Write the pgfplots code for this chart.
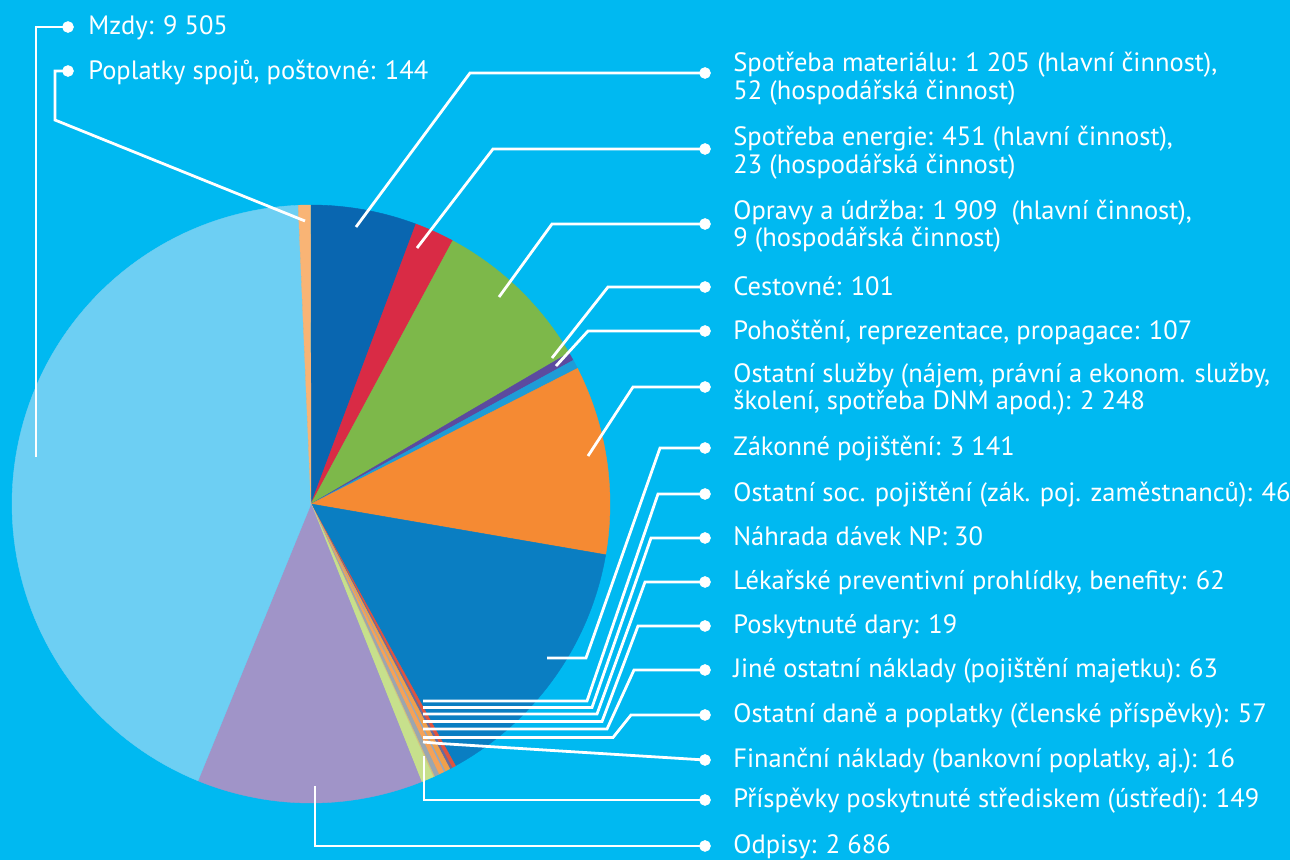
\documentclass[border=0pt]{standalone}
\usepackage{pgfplots}
\pgfplotsset{compat=1.18}
\usepackage{fontspec}
\setmainfont{PT Sans}
\definecolor{bg}{HTML}{00B9F1}
\definecolor{cMzdy}{HTML}{6DCFF3}
\definecolor{cPopl}{HTML}{F9B475}
\definecolor{cMat}{HTML}{0966B0}
\definecolor{cEn}{HTML}{D92B45}
\definecolor{cOpr}{HTML}{7DB84A}
\definecolor{cCest}{HTML}{5C4A9F}
\definecolor{cPoh}{HTML}{1E9CD7}
\definecolor{cSluz}{HTML}{F58A33}
\definecolor{cZak}{HTML}{0A7EC2}
\definecolor{cSoc}{HTML}{E0533F}
\definecolor{cNah}{HTML}{6A6B9B}
\definecolor{cLek}{HTML}{F0A04B}
\definecolor{cDar}{HTML}{8FA8C8}
\definecolor{cJin}{HTML}{F4A259}
\definecolor{cDan}{HTML}{9BA6B0}
\definecolor{cFin}{HTML}{D8C07A}
\definecolor{cPrisp}{HTML}{C7E08C}
\definecolor{cOdp}{HTML}{A094C8}
% total of all values = 22023
\pgfmathsetmacro\scalef{360/220.23/100}
\gdef\cum{0}
\newcommand\slice[2]{%
 \pgfmathsetmacro\sa{90-\cum}%
 \pgfmathsetmacro\tmpc{\cum+#1*\scalef}%
 \xdef\cum{\tmpc}%
 \pgfmathsetmacro\ea{90-\cum}%
 \edef\doit{\noexpand\addplot[draw=#2,line width=0.2pt,fill=#2,domain=\ea:\sa,samples=90] ({311+299*cos(x)},{504-299*sin(x)}) -- (axis cs:311,504) -- cycle;}%
 \doit}
\newcommand\lab[3]{\node[anchor=base west,text=white,inner sep=0pt] at (axis cs:#1,#2) {#3};}
\begin{document}
\begin{tikzpicture}
\begin{axis}[
  width=645bp, height=430bp, scale only axis,
  xmin=0, xmax=1290, ymin=0, ymax=860, y dir=reverse,
  hide axis, clip=false,
  font=\fontsize{13.3}{16}\selectfont,
]
\fill[bg] (axis cs:0,0) rectangle (axis cs:1290,860);
\coordinate (TL) at (axis cs:0,0);
\coordinate (BR) at (axis cs:1290,860);
% slices clockwise from top
\slice{1257}{cMat}
\slice{474}{cEn}
\slice{1918}{cOpr}
\slice{101}{cCest}
\slice{107}{cPoh}
\slice{2248}{cSluz}
\slice{3141}{cZak}
\slice{46}{cSoc}
\slice{30}{cNah}
\slice{62}{cLek}
\slice{19}{cDar}
\slice{63}{cJin}
\slice{57}{cDan}
\slice{16}{cFin}
\slice{149}{cPrisp}
\slice{2686}{cOdp}
\slice{9505}{cMzdy}
\slice{144}{cPopl}
% leader lines
\addplot[white,line width=1.4pt,mark=none] coordinates {(36,457) (36,27) (68,27)};
\addplot[white,line width=1.4pt,mark=none] coordinates {(305,221) (55,120) (55,71) (68,71)};
\addplot[white,line width=1.4pt,mark=none] coordinates {(356,227) (470,73) (705,73)};
\addplot[white,line width=1.4pt,mark=none] coordinates {(417,248) (493,149) (705,149)};
\addplot[white,line width=1.4pt,mark=none] coordinates {(499,297) (552,224) (705,224)};
\addplot[white,line width=1.4pt,mark=none] coordinates {(552,358) (608,287) (705,287)};
\addplot[white,line width=1.4pt,mark=none] coordinates {(556,366) (588,331) (705,331)};
\addplot[white,line width=1.4pt,mark=none] coordinates {(588,456) (633,387) (705,387)};
\addplot[white,line width=1.4pt,mark=none] coordinates {(547,658) (586,658) (660,448) (705,448)};
\addplot[white,line width=1.4pt,mark=none] coordinates {(423,701) (587,701) (658,494) (705,494)};
\addplot[white,line width=1.4pt,mark=none] coordinates {(423,707.5) (592,707.5) (651,538) (705,538)};
\addplot[white,line width=1.4pt,mark=none] coordinates {(423,714) (597,714) (645,582) (705,582)};
\addplot[white,line width=1.4pt,mark=none] coordinates {(423,721.5) (602,721.5) (638,626) (705,626)};
\addplot[white,line width=1.4pt,mark=none] coordinates {(423,729) (607,729) (634,670) (705,670)};
\addplot[white,line width=1.4pt,mark=none] coordinates {(423,737.5) (613,737.5) (631,715) (705,715)};
\addplot[white,line width=1.4pt,mark=none] coordinates {(423,742) (440,743.5) (705,760)};
\addplot[white,line width=1.4pt,mark=none] coordinates {(424,756) (424,800) (705,800)};
\addplot[white,line width=1.4pt,mark=none] coordinates {(315,786) (315,846) (705,846)};
\addplot[white,only marks,mark=*,mark size=2.7pt] coordinates {
 (68,27) (68,71) (705,73) (705,149) (705,224) (705,287) (705,331) (705,387)
 (705,448) (705,494) (705,538) (705,582) (705,626) (705,670) (705,715)
 (705,760) (705,800) (705,846)};
% labels
\lab{88}{34}{Mzdy: 9 505}
\lab{88}{79}{Poplatky spojů, poštovné: 144}
\lab{733}{71}{Spotřeba materiálu: 1 205 (hlavní činnost),}
\lab{733}{99}{52 (hospodářská činnost)}
\lab{733}{145}{Spotřeba energie: 451 (hlavní činnost),}
\lab{733}{173}{23 (hospodářská činnost)}
\lab{733}{219}{Opravy a údržba: 1 909 \ (hlavní činnost),}
\lab{733}{246}{9 (hospodářská činnost)}
\lab{733}{295}{Cestovné: 101}
\lab{733}{339}{Pohoštění, reprezentace, propagace: 107}
\lab{733}{383}{Ostatní služby (nájem, právní a ekonom. služby,}
\lab{733}{410}{školení, spotřeba DNM apod.): 2 248}
\lab{733}{456}{Zákonné pojištění: 3 141}
\lab{733}{502}{Ostatní soc. pojištění (zák. poj. zaměstnanců): 46}
\lab{733}{546}{Náhrada dávek NP: 30}
\lab{733}{590}{Lékařské preventivní prohlídky, benefity: 62}
\lab{733}{634}{Poskytnuté dary: 19}
\lab{733}{678}{Jiné ostatní náklady (pojištění majetku): 63}
\lab{733}{723}{Ostatní daně a poplatky (členské příspěvky): 57}
\lab{733}{768}{Finanční náklady (bankovní poplatky, aj.): 16}
\lab{733}{808}{Příspěvky poskytnuté střediskem (ústředí): 149}
\lab{733}{854}{Odpisy: 2 686}
\end{axis}
\pgfresetboundingbox
\path[use as bounding box] (TL) rectangle (BR);
\end{tikzpicture}
\end{document}
